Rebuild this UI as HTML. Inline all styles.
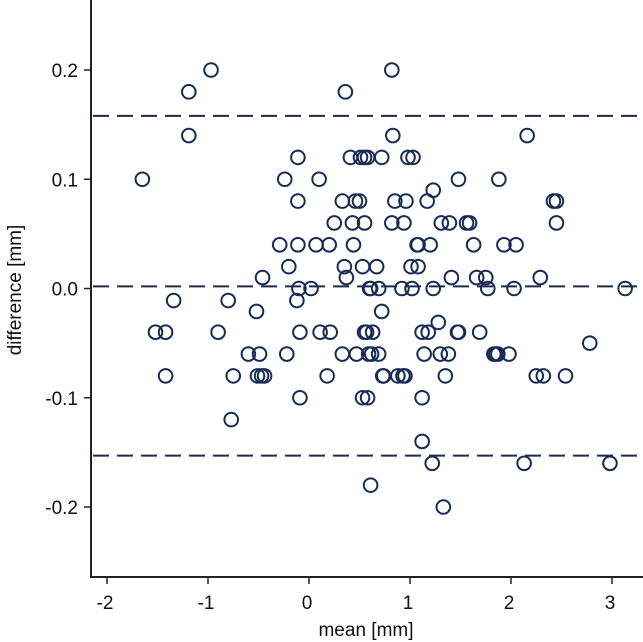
<!DOCTYPE html>
<html><head><meta charset="utf-8"><style>
html,body{margin:0;padding:0;background:#fff;}
svg{display:block;font-family:"Liberation Sans",Arial,sans-serif;}
</style></head><body>
<svg id="chart" width="643" height="642" viewBox="0 0 643 642" xmlns="http://www.w3.org/2000/svg">
<g id="axes"></g>
<g id="lines"></g>
<g id="points"></g>
<text transform="translate(21,290) rotate(-90)" text-anchor="middle" font-size="19" fill="#111">difference [mm]</text>
<text x="366" y="636" text-anchor="middle" font-size="19" fill="#111">mean [mm]</text>
</svg>
<script>
const xTicks = [-2,-1,0,1,2,3];
const xTickLabels = ["-2","-1","0","1","2","3"];
const yTicks = [-0.2,-0.1,0,0.1,0.2];
const yTickLabels = ["-0.2","-0.1","0.0","0.1","0.2"];
const refLines = [0.158,0.002,-0.153];
const meanVals = [
-0.97,0.82,-1.19,0.36,-1.19,0.83,2.16,
-0.11,0.41,0.51,0.55,0.58,0.72,0.98,1.03,
-1.65,-0.24,0.10,1.48,1.88,1.23,
-0.11,0.33,0.46,0.50,0.85,0.96,1.17,2.42,2.45,
0.25,0.43,0.55,0.82,0.94,1.31,1.39,1.56,1.59,2.45,
-0.29,-0.11,0.07,0.20,0.44,1.07,1.08,1.20,1.63,1.93,2.05,
-0.20,0.35,0.53,0.67,1.01,1.08,
-0.46,0.37,1.41,1.66,1.75,2.29,
-0.10,0.02,0.60,0.61,0.69,0.92,1.02,1.23,1.77,2.03,3.13,
-1.34,-0.80,-0.12,-0.52,0.72,1.28,2.78,
-1.52,-1.42,-0.90,-0.09,0.11,0.21,0.55,0.57,0.63,1.12,1.18,1.47,1.48,1.69,
-0.60,-0.49,-0.22,0.33,0.47,0.59,0.62,0.69,1.14,1.30,1.38,1.83,1.85,1.87,1.98,
-1.42,-0.75,-0.51,-0.47,-0.44,0.18,0.73,0.74,0.88,0.93,0.95,1.35,2.25,2.32,2.54,
-0.09,0.53,0.58,1.12,
-0.77,1.12,1.22,2.13,2.98,0.61,1.33
];
const diffVals = [
0.20,0.20,0.18,0.18,0.14,0.14,0.14,
0.12,0.12,0.12,0.12,0.12,0.12,0.12,0.12,
0.10,0.10,0.10,0.10,0.10,0.09,
0.08,0.08,0.08,0.08,0.08,0.08,0.08,0.08,0.08,
0.06,0.06,0.06,0.06,0.06,0.06,0.06,0.06,0.06,0.06,
0.04,0.04,0.04,0.04,0.04,0.04,0.04,0.04,0.04,0.04,0.04,
0.02,0.02,0.02,0.02,0.02,0.02,
0.01,0.01,0.01,0.01,0.01,0.01,
0.00,0.00,0.00,0.00,0.00,0.00,0.00,0.00,0.00,0.00,0.00,
-0.011,-0.011,-0.011,-0.021,-0.021,-0.031,-0.05,
-0.04,-0.04,-0.04,-0.04,-0.04,-0.04,-0.04,-0.04,-0.04,-0.04,-0.04,-0.04,-0.04,-0.04,
-0.06,-0.06,-0.06,-0.06,-0.06,-0.06,-0.06,-0.06,-0.06,-0.06,-0.06,-0.06,-0.06,-0.06,-0.06,
-0.08,-0.08,-0.08,-0.08,-0.08,-0.08,-0.08,-0.08,-0.08,-0.08,-0.08,-0.08,-0.08,-0.08,-0.08,
-0.10,-0.10,-0.10,-0.10,
-0.12,-0.14,-0.16,-0.16,-0.16,-0.18,-0.20
];
const NS="http://www.w3.org/2000/svg";
const L=91,R=643,T=0,B=577;
function xs(v){return 309+101*v;}
function ys(v){return 288.5-1092.5*v;}
function mk(tag,attrs,parent){const e=document.createElementNS(NS,tag);for(const k in attrs)e.setAttribute(k,attrs[k]);parent.appendChild(e);return e;}
const axes=document.getElementById('axes');
const ya=mk('line',{x1:L,y1:T,x2:L,y2:B,stroke:'#222','stroke-width':2},axes);


const xa=mk('line',{x1:L-1,y1:B,x2:R,y2:B,stroke:'#222','stroke-width':2},axes);


xTicks.forEach((t,i)=>{
  const tk=mk('line',{x1:xs(t),y1:B,x2:xs(t),y2:B+7,stroke:'#222','stroke-width':1.5},axes);
  
  
  const tx=mk('text',{x:xs(t)-2,y:B+32,'text-anchor':'middle','font-size':19,fill:'#111'},axes);
  tx.textContent=xTickLabels[i];
  
  
});
yTicks.forEach((t,i)=>{
  const tk=mk('line',{x1:L-7,y1:ys(t),x2:L,y2:ys(t),stroke:'#222','stroke-width':1.5},axes);
  
  
  const tx=mk('text',{x:L-13,y:ys(t)+7,'text-anchor':'end','font-size':19,fill:'#111'},axes);
  tx.textContent=yTickLabels[i];
  
  
});
const lines=document.getElementById('lines');
refLines.forEach(v=>{
  const ln=mk('line',{x1:L+2,y1:ys(v),x2:R,y2:ys(v),stroke:'#1c2a48','stroke-width':2,'stroke-dasharray':'16 8'},lines);
  
  
});
const pts=document.getElementById('points');
meanVals.forEach((m,i)=>{
  const c=mk('circle',{cx:xs(m),cy:ys(diffVals[i]),r:6.8,fill:'none',stroke:'#172c55','stroke-width':2},pts);
  
  
});
</script>
</body></html>
